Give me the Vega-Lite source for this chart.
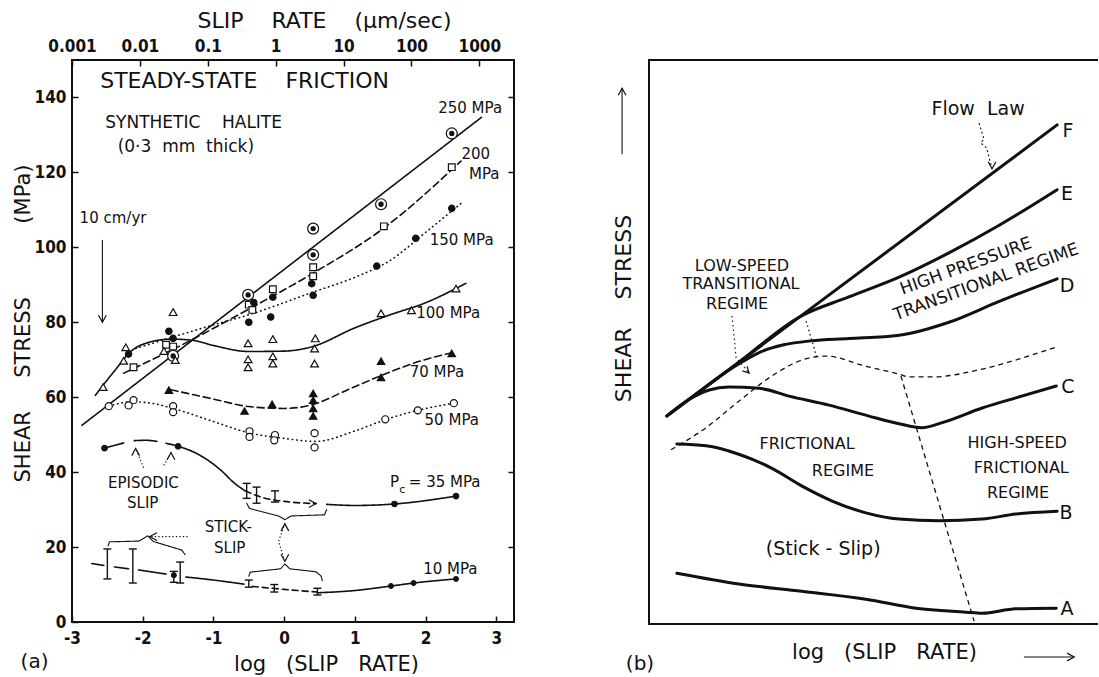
{
  "$schema": "https://vega.github.io/schema/vega-lite/v6.json",
  "background": "white",
  "padding": {"left": 10, "top": 8, "right": 0, "bottom": 0},
  "bounds": "flush",
  "spacing": 135,
  "config": {
    "view": {"stroke": "#111", "strokeWidth": 2},
    "font": "DejaVu Sans",
    "axis": {"grid": false, "domain": false, "tickColor": "#111", "labelColor": "#111", "titleColor": "#111", "tickWidth": 1.5, "labelFlush": false, "labelOverlap": false},
    "text": {"font": "DejaVu Sans", "color": "#111"},
    "line": {"color": "#111"},
    "rule": {"color": "#111"},
    "point": {"color": "#111"}
  },
  "datasets": {
    "ptsA": [
      {"s":"250","x":-1.57,"y":71},{"s":"250","x":-0.51,"y":87.3},{"s":"250","x":0.41,"y":105},{"s":"250","x":0.41,"y":98},{"s":"250","x":1.37,"y":111.5},{"s":"250","x":2.37,"y":130.4},
      {"s":"200","x":-2.13,"y":68},{"s":"200","x":-1.67,"y":74},{"s":"200","x":-1.57,"y":73.5},{"s":"200","x":-0.5,"y":84.7},{"s":"200","x":-0.45,"y":83.3},{"s":"200","x":-0.16,"y":88.8},{"s":"200","x":0.41,"y":94.7},{"s":"200","x":0.41,"y":92.3},{"s":"200","x":1.41,"y":105.6},{"s":"200","x":2.37,"y":121.4},
      {"s":"150","x":-2.2,"y":71.5},{"s":"150","x":-1.63,"y":77.6},{"s":"150","x":-1.57,"y":75.7},{"s":"150","x":-0.5,"y":80},{"s":"150","x":-0.43,"y":85.3},{"s":"150","x":-0.16,"y":86.7},{"s":"150","x":-0.19,"y":81.4},{"s":"150","x":0.39,"y":90.3},{"s":"150","x":0.41,"y":87.2},{"s":"150","x":1.31,"y":95},{"s":"150","x":1.86,"y":102.4},{"s":"150","x":2.37,"y":110.4},
      {"s":"100","x":-2.56,"y":62.7},{"s":"100","x":-2.24,"y":73.3},{"s":"100","x":-2.27,"y":69.7},{"s":"100","x":-1.7,"y":72.3},{"s":"100","x":-1.57,"y":82.7},{"s":"100","x":-1.54,"y":69.9},{"s":"100","x":-0.51,"y":74.4},{"s":"100","x":-0.51,"y":70.1},{"s":"100","x":-0.51,"y":68},{"s":"100","x":-0.16,"y":75.5},{"s":"100","x":-0.16,"y":70.9},{"s":"100","x":-0.16,"y":69},{"s":"100","x":0.44,"y":75.7},{"s":"100","x":0.43,"y":73},{"s":"100","x":0.43,"y":69},{"s":"100","x":1.37,"y":82.4},{"s":"100","x":1.8,"y":83.2},{"s":"100","x":2.43,"y":89},
      {"s":"70","x":-1.63,"y":61.9},{"s":"70","x":-0.56,"y":56.3},{"s":"70","x":-0.17,"y":58.1},{"s":"70","x":0.41,"y":61},{"s":"70","x":0.41,"y":59.2},{"s":"70","x":0.41,"y":57},{"s":"70","x":0.41,"y":55},{"s":"70","x":1.37,"y":69.6},{"s":"70","x":1.37,"y":65.3},{"s":"70","x":2.37,"y":71.7},
      {"s":"50","x":-2.48,"y":57.6},{"s":"50","x":-2.2,"y":57.8},{"s":"50","x":-2.13,"y":59.2},{"s":"50","x":-1.57,"y":57.6},{"s":"50","x":-1.57,"y":56},{"s":"50","x":-0.49,"y":50.9},{"s":"50","x":-0.49,"y":49.4},{"s":"50","x":-0.13,"y":49.9},{"s":"50","x":-0.14,"y":48.5},{"s":"50","x":0.43,"y":50.4},{"s":"50","x":0.43,"y":46.6},{"s":"50","x":1.43,"y":54.1},{"s":"50","x":1.89,"y":56.5},{"s":"50","x":2.4,"y":58.4},
      {"s":"35","x":-2.54,"y":46.4},{"s":"35","x":-1.5,"y":46.9},{"s":"35","x":1.56,"y":31.5},{"s":"35","x":2.43,"y":33.6},
      {"s":"10","x":-1.56,"y":12.5},{"s":"10","x":1.51,"y":9.6},{"s":"10","x":1.83,"y":10.4},{"s":"10","x":2.43,"y":11.5}
    ],
    "crvA": [
      {"c":"250","x":-2.86,"y":52.5},{"c":"250","x":2.79,"y":134.7},
      {"c":"200","x":-2.27,"y":66.4},{"c":"200","x":-1.6,"y":72.5},{"c":"200","x":-0.5,"y":83.5},{"c":"200","x":0.4,"y":93},{"c":"200","x":1.4,"y":105},{"c":"200","x":2.5,"y":123},
      {"c":"150","x":-2.1,"y":73},{"c":"150","x":-1.0,"y":79.3},{"c":"150","x":-0.5,"y":82},{"c":"150","x":0.4,"y":88},{"c":"150","x":1.0,"y":92},{"c":"150","x":1.5,"y":96.5},{"c":"150","x":2.0,"y":104},{"c":"150","x":2.5,"y":111.7},
      {"c":"100","x":-2.67,"y":60.5},{"c":"100","x":-2.4,"y":67},{"c":"100","x":-2.15,"y":72.5},{"c":"100","x":-1.9,"y":74.7},{"c":"100","x":-1.6,"y":75.5},{"c":"100","x":-1.3,"y":75.2},{"c":"100","x":-1.0,"y":73.8},{"c":"100","x":-0.5,"y":72.2},{"c":"100","x":0,"y":72.3},{"c":"100","x":0.4,"y":73.5},{"c":"100","x":1.0,"y":78.5},{"c":"100","x":1.5,"y":82},{"c":"100","x":2.0,"y":85.2},{"c":"100","x":2.57,"y":90.4},
      {"c":"70","x":-1.6,"y":62},{"c":"70","x":-1.0,"y":59.5},{"c":"70","x":-0.5,"y":57.5},{"c":"70","x":0,"y":57},{"c":"70","x":0.4,"y":58},{"c":"70","x":0.9,"y":62},{"c":"70","x":1.4,"y":66},{"c":"70","x":1.9,"y":69.5},{"c":"70","x":2.4,"y":72},
      {"c":"50","x":-2.48,"y":57.6},{"c":"50","x":-2.15,"y":58.8},{"c":"50","x":-1.85,"y":58.3},{"c":"50","x":-1.57,"y":57},{"c":"50","x":-1.0,"y":53.5},{"c":"50","x":-0.5,"y":50.5},{"c":"50","x":0,"y":49},{"c":"50","x":0.45,"y":48.2},{"c":"50","x":1.0,"y":51},{"c":"50","x":1.43,"y":54},{"c":"50","x":1.89,"y":56.5},{"c":"50","x":2.4,"y":58.4},
      {"c":"35a","x":-2.54,"y":46.4},{"c":"35a","x":-2.27,"y":47.8},
      {"c":"35b","x":-2.12,"y":48.4},{"c":"35b","x":-1.95,"y":48.5},{"c":"35b","x":-1.8,"y":48.2},
      {"c":"35c","x":-1.67,"y":47.7},{"c":"35c","x":-1.5,"y":46.9},{"c":"35c","x":-1.2,"y":44.6},{"c":"35c","x":-0.9,"y":40.6},{"c":"35c","x":-0.7,"y":37},{"c":"35c","x":-0.55,"y":35},
      {"c":"35s","x":-0.55,"y":35},{"c":"35s","x":-0.3,"y":33.2},{"c":"35s","x":0,"y":32.2},{"c":"35s","x":0.45,"y":31.6},
      {"c":"35d","x":0.6,"y":31.4},{"c":"35d","x":1.0,"y":31.1},{"c":"35d","x":1.56,"y":31.5},{"c":"35d","x":2.43,"y":33.6},
      {"c":"10a","x":-2.72,"y":15.6},{"c":"10a","x":-2.55,"y":15.1},
      {"c":"10b","x":-2.4,"y":14.7},{"c":"10b","x":-2.2,"y":14.2},
      {"c":"10c","x":-2.06,"y":13.9},{"c":"10c","x":-1.67,"y":12.8},
      {"c":"10d","x":-1.39,"y":12},{"c":"10d","x":-1.0,"y":11.2},{"c":"10d","x":-0.57,"y":10.1},
      {"c":"10s","x":-0.45,"y":9.5},{"c":"10s","x":0,"y":8.7},{"c":"10s","x":0.47,"y":8},
      {"c":"10e","x":0.47,"y":7.8},{"c":"10e","x":1.0,"y":8.4},{"c":"10e","x":1.51,"y":9.6},{"c":"10e","x":1.83,"y":10.4},{"c":"10e","x":2.43,"y":11.5}
    ],
    "barsA": [
      {"x":-2.5,"y":11.5,"hi":19.5},{"x":-2.14,"y":10.4,"hi":19.5},{"x":-1.56,"y":10.6,"hi":13.5},{"x":-1.47,"y":10.4,"hi":16},
      {"x":-0.53,"y":33,"hi":37},{"x":-0.39,"y":31.7,"hi":36},{"x":-0.13,"y":32,"hi":35},
      {"x":-0.5,"y":9.3,"hi":11.2},{"x":-0.14,"y":8,"hi":10},{"x":0.47,"y":7.2,"hi":9}
    ],
    "annA": [
      {"id":"b1","k":1,"x":-2.49,"y":20.3},{"id":"b1","k":2,"x":-2.47,"y":21.4},{"id":"b1","k":3,"x":-2.05,"y":21.6},{"id":"b1","k":4,"x":-1.93,"y":23},{"id":"b1","k":5,"x":-1.85,"y":21.5},{"id":"b1","k":6,"x":-1.45,"y":19.2},{"id":"b1","k":7,"x":-1.4,"y":18},
      {"id":"b2","k":1,"x":-0.53,"y":31.7},{"id":"b2","k":2,"x":-0.49,"y":30.3},{"id":"b2","k":3,"x":-0.08,"y":28.3},{"id":"b2","k":4,"x":0.01,"y":27.3},{"id":"b2","k":5,"x":0.1,"y":28.3},{"id":"b2","k":6,"x":0.57,"y":28.6},{"id":"b2","k":7,"x":0.6,"y":30},
      {"id":"b3","k":1,"x":-0.5,"y":12.2},{"id":"b3","k":2,"x":-0.48,"y":13.3},{"id":"b3","k":3,"x":-0.05,"y":14.2},{"id":"b3","k":4,"x":0.01,"y":15.5},{"id":"b3","k":5,"x":0.08,"y":14.2},{"id":"b3","k":6,"x":0.45,"y":13.4},{"id":"b3","k":7,"x":0.52,"y":12.3},{"id":"b3","k":8,"x":0.54,"y":11},
      {"id":"a1","k":1,"x":-1.37,"y":22.8},{"id":"a1","k":2,"x":-1.9,"y":22.8},
      {"id":"a2","k":1,"x":0.01,"y":26.2},{"id":"a2","k":2,"x":-0.08,"y":21.5},{"id":"a2","k":3,"x":0.01,"y":16.2},
      {"id":"a3","k":1,"x":-1.99,"y":41.3},{"id":"a3","k":2,"x":-2.1,"y":46.3},
      {"id":"a4","k":1,"x":-1.7,"y":41.9},{"id":"a4","k":2,"x":-1.6,"y":45.2},
      {"id":"a5","k":1,"x":-2.57,"y":101.9},{"id":"a5","k":2,"x":-2.57,"y":80}
    ],
    "headsA": [
      {"d":"left","x":-1.9,"y":22.8},{"d":"up","x":0.01,"y":26.2},{"d":"down","x":0.01,"y":16.2},
      {"d":"up","x":-2.1,"y":46.3},{"d":"up","x":-1.6,"y":45.2},{"d":"down","x":-2.57,"y":80},{"d":"right","x":0.45,"y":31.6}
    ],
    "txtA": [
      {"t":"STEADY-STATE\u00a0\u00a0\u00a0\u00a0FRICTION","x":-0.56,"y":144.5,"k":"big"},
      {"t":"SYNTHETIC\u00a0\u00a0\u00a0\u00a0HALITE","x":-1.28,"y":133.3,"k":"mid"},
      {"t":"(0·3\u00a0\u00a0mm\u00a0\u00a0thick)","x":-1.39,"y":126.7,"k":"mid"},
      {"t":"10 cm/yr","x":-2.42,"y":107.7,"k":"small"},
      {"t":"250 MPa","x":2.63,"y":137.3,"k":"small"},
      {"t":"200","x":2.71,"y":125,"k":"small"},
      {"t":"MPa","x":2.83,"y":119.7,"k":"small"},
      {"t":"150 MPa","x":2.51,"y":101.9,"k":"small"},
      {"t":"100 MPa","x":2.32,"y":82.4,"k":"small"},
      {"t":"70 MPa","x":2.16,"y":66.7,"k":"small"},
      {"t":"50 MPa","x":2.37,"y":53.9,"k":"small"},
      {"t":"P","x":1.56,"y":37.3,"k":"small"},
      {"t":"c","x":1.67,"y":35.1,"k":"sub"},
      {"t":"= 35 MPa","x":2.27,"y":37.3,"k":"small"},
      {"t":"10 MPa","x":2.35,"y":14.1,"k":"small"},
      {"t":"EPISODIC","x":-1.99,"y":37,"k":"small"},
      {"t":"SLIP","x":-2.0,"y":31.7,"k":"small"},
      {"t":"STICK-","x":-0.79,"y":25.3,"k":"small"},
      {"t":"SLIP","x":-0.77,"y":19.7,"k":"small"},
      {"t":"(a)","x":-3.53,"y":-10.7,"k":"panel"}
    ],
    "topA": [
      {"r":0.001,"v":0},{"r":1000,"v":140}
    ],
    "frameB": [
      {"k":1,"x":100,"y":0},{"k":2,"x":0,"y":0},{"k":3,"x":0,"y":100},{"k":4,"x":100,"y":100}
    ],
    "crvB": [
      {"c":"F","x":4.0,"y":36.9},{"c":"F","x":90.9,"y":88.5},
      {"c":"E","x":4.0,"y":36.9},{"c":"E","x":20,"y":46.4},{"c":"E","x":33.4,"y":54.4},{"c":"E","x":44.5,"y":58.0},{"c":"E","x":55.7,"y":61.5},{"c":"E","x":66.8,"y":65.8},{"c":"E","x":78.0,"y":70.7},{"c":"E","x":90.9,"y":77.0},
      {"c":"D","x":4.0,"y":36.9},{"c":"D","x":11,"y":41.1},{"c":"D","x":17,"y":44.6},{"c":"D","x":21,"y":46.6},{"c":"D","x":25,"y":48.3},{"c":"D","x":30,"y":49.5},{"c":"D","x":36,"y":50.2},{"c":"D","x":44.5,"y":50.6},{"c":"D","x":55.7,"y":51.2},{"c":"D","x":66.8,"y":53.5},{"c":"D","x":78,"y":57.2},{"c":"D","x":90.9,"y":61.2},
      {"c":"C","x":4.0,"y":36.9},{"c":"C","x":8.9,"y":39.8},{"c":"C","x":13.4,"y":41.5},{"c":"C","x":17.8,"y":42.0},{"c":"C","x":24.5,"y":41.8},{"c":"C","x":31.2,"y":40.4},{"c":"C","x":40.1,"y":38.8},{"c":"C","x":48.8,"y":36.9},{"c":"C","x":55.7,"y":35.5},{"c":"C","x":60.8,"y":34.8},{"c":"C","x":65.3,"y":35.7},{"c":"C","x":74.2,"y":38.3},{"c":"C","x":81.7,"y":40.1},{"c":"C","x":90.7,"y":42.2},
      {"c":"B","x":6.2,"y":31.9},{"c":"B","x":12.7,"y":31.6},{"c":"B","x":20.0,"y":30.1},{"c":"B","x":27.4,"y":27.6},{"c":"B","x":34.2,"y":24.4},{"c":"B","x":40.8,"y":21.8},{"c":"B","x":48.3,"y":19.7},{"c":"B","x":55.7,"y":18.6},{"c":"B","x":64.6,"y":18.3},{"c":"B","x":74.2,"y":18.6},{"c":"B","x":81.7,"y":19.5},{"c":"B","x":90.9,"y":20.0},
      {"c":"A","x":6.2,"y":9.0},{"c":"A","x":20,"y":7.1},{"c":"A","x":34,"y":5.8},{"c":"A","x":48.3,"y":4.4},{"c":"A","x":59.5,"y":2.8},{"c":"A","x":70.6,"y":2.1},{"c":"A","x":74.2,"y":1.9},{"c":"A","x":81.7,"y":2.7},{"c":"A","x":90.7,"y":2.8}
    ],
    "bndB": [
      {"c":"dash1","x":4.9,"y":30.9},{"c":"dash1","x":12.7,"y":34.8},{"c":"dash1","x":20.0,"y":39.5},{"c":"dash1","x":27.4,"y":44.0},{"c":"dash1","x":34.9,"y":47.0},{"c":"dash1","x":39.4,"y":47.5},{"c":"dash1","x":48.3,"y":45.7},{"c":"dash1","x":55.7,"y":44.3},{"c":"dash1","x":58,"y":43.8},{"c":"dash1","x":63.1,"y":43.8},{"c":"dash1","x":74.2,"y":45.2},{"c":"dash1","x":85.3,"y":47.7},{"c":"dash1","x":90.7,"y":49.1},
      {"c":"dash2","x":56.1,"y":44.0},{"c":"dash2","x":72.4,"y":0.5},
      {"c":"dot1","x":35,"y":53.7},{"c":"dot1","x":37.4,"y":47.2}
    ],
    "annB": [
      {"id":"lsa","k":1,"x":18.5,"y":54.6},{"id":"lsa","k":2,"x":19.4,"y":47.2},{"id":"lsa","k":3,"x":22.3,"y":44.5},
      {"id":"fla","k":1,"x":73.5,"y":88.8},{"id":"fla","k":2,"x":74.6,"y":86.0},{"id":"fla","k":3,"x":73.9,"y":85.3},{"id":"fla","k":4,"x":75.2,"y":84.4},{"id":"fla","k":5,"x":76.4,"y":80.7},
      {"id":"yarrow","k":1,"x":-6,"y":83.3},{"id":"yarrow","k":2,"x":-6,"y":95.0},
      {"id":"xarrow","k":1,"x":83.5,"y":-5.85},{"id":"xarrow","k":2,"x":94.7,"y":-5.85}
    ],
    "headsB": [
      {"d":"downright","x":22.3,"y":44.5},{"d":"down","x":76.4,"y":80.7},{"d":"up","x":-6,"y":95.0},{"d":"right","x":94.7,"y":-5.85}
    ],
    "txtB": [
      {"t":"Flow\u00a0\u00a0Law","x":73.3,"y":91.3,"k":"letter"},
      {"t":"F","x":93.3,"y":87.4,"k":"letter"},
      {"t":"E","x":93.1,"y":76.2,"k":"letter"},
      {"t":"D","x":93.1,"y":59.9,"k":"letter"},
      {"t":"C","x":93.3,"y":42.0,"k":"letter"},
      {"t":"B","x":92.9,"y":19.7,"k":"letter"},
      {"t":"A","x":93.1,"y":2.7,"k":"letter"},
      {"t":"LOW-SPEED","x":20.7,"y":63.5,"k":"reg"},
      {"t":"TRANSITIONAL","x":20.5,"y":60.3,"k":"reg"},
      {"t":"REGIME","x":19.6,"y":56.7,"k":"reg"},
      {"t":"FRICTIONAL","x":35.2,"y":31.9,"k":"reg"},
      {"t":"REGIME","x":43.2,"y":27.1,"k":"reg"},
      {"t":"HIGH-SPEED","x":82,"y":32.1,"k":"reg"},
      {"t":"FRICTIONAL","x":82.9,"y":27.7,"k":"reg"},
      {"t":"REGIME","x":82.2,"y":23.2,"k":"reg"},
      {"t":"(Stick - Slip)","x":38.8,"y":13.3,"k":"letter"},
      {"t":"(b)","x":-2.0,"y":-7.1,"k":"panel"}
    ],
    "rotB": [
      {"t":"HIGH PRESSURE","x":70.6,"y":63.4},
      {"t":"TRANSITIONAL REGIME","x":75.1,"y":60.6}
    ]
  },
  "hconcat": [
    {
      "width": 442,
      "height": 562,
      "layer": [
        {
          "encoding": {
            "x": {"field": "x", "type": "quantitative", "scale": {"domain": [-3, 3.25], "nice": false, "zero": false},
              "axis": {"values": [-3,-2,-1,0,1,2,3], "labelExpr": "datum.value < 0 ? '-' + abs(datum.value) : '' + datum.value",
                "labelFont": "Liberation Sans Narrow, DejaVu Sans Condensed, DejaVu Sans", "labelFontSize": 17, "labelFontWeight": "bold",
                "tickSize": -6, "labelPadding": 14,
                "title": "log\u00a0\u00a0\u00a0(SLIP\u00a0\u00a0\u00a0RATE)", "titleFontSize": 21, "titleFontWeight": "normal",
                "titleX": 254, "titleY": 48, "titleBaseline": "alphabetic", "titleAlign": "center"}},
            "y": {"field": "y", "type": "quantitative", "scale": {"domain": [0, 150], "nice": false, "zero": false},
              "axis": {"values": [0,20,40,60,80,100,120,140],
                "labelFont": "Liberation Sans Narrow, DejaVu Sans Condensed, DejaVu Sans", "labelFontSize": 17, "labelFontWeight": "bold",
                "tickSize": -6, "labelPadding": 12,
                "title": "SHEAR\u00a0\u00a0\u00a0\u00a0\u00a0STRESS\u00a0\u00a0\u00a0\u00a0\u00a0\u00a0\u00a0\u00a0\u00a0\u00a0\u00a0(MPa)", "titleFontSize": 21, "titleFontWeight": "normal",
                "titleAngle": 270, "titleX": -43, "titleY": 263, "titleBaseline": "alphabetic", "titleAlign": "center"}}
          },
          "layer": [
            {
              "data": {"name": "crvA"},
              "mark": {"type": "line", "interpolate": "monotone", "strokeWidth": 1.6, "strokeCap": "round"},
              "encoding": {
                "strokeDash": {"field": "c", "type": "nominal", "legend": null,
                  "scale": {"type": "ordinal",
                    "domain": ["250","200","150","100","70","50","35a","35b","35c","35s","35d","10a","10b","10c","10d","10s","10e"],
                    "range": [[1,0],[7,4],[0.5,4],[1,0],[7,4],[0.5,4],[1,0],[1,0],[1,0],[6,4],[1,0],[1,0],[1,0],[1,0],[1,0],[6,4],[1,0]]}}
              }
            },
            {
              "data": {"name": "annA"},
              "mark": {"type": "line", "strokeWidth": 1.1, "strokeCap": "round"},
              "encoding": {
                "order": {"field": "k", "type": "quantitative"},
                "strokeDash": {"field": "id", "type": "nominal", "legend": null,
                  "scale": {"type": "ordinal", "domain": ["b1","b2","b3","a1","a2","a3","a4","a5"],
                    "range": [[1,0],[1,0],[1,0],[0.5,3],[0.5,3],[0.5,3],[0.5,3],[1,0]]}}
              }
            },
            {
              "data": {"name": "barsA"},
              "mark": {"type": "rule", "strokeWidth": 1.4},
              "encoding": {"y2": {"field": "hi"}}
            },
            {
              "data": {"name": "barsA"},
              "transform": [{"fold": ["y", "hi"], "as": ["end", "y"]}],
              "mark": {"type": "point", "shape": "M-1,0L1,0", "size": 64, "strokeWidth": 1.4, "filled": false, "opacity": 1}
            },
            {
              "data": {"name": "ptsA"},
              "mark": {"type": "point", "filled": true, "stroke": "#111", "strokeWidth": 1.2, "opacity": 1},
              "encoding": {
                "shape": {"field": "s", "type": "nominal", "legend": null,
                  "scale": {"type": "ordinal", "domain": ["250","200","150","100","70","50","35","10"],
                    "range": ["circle","square","circle","triangle-up","triangle-up","circle","circle","circle"]}},
                "fill": {"field": "s", "type": "nominal", "legend": null,
                  "scale": {"type": "ordinal", "domain": ["250","200","150","100","70","50","35","10"],
                    "range": ["white","white","#111","white","#111","white","#111","#111"]}},
                "size": {"field": "s", "type": "nominal", "legend": null,
                  "scale": {"type": "ordinal", "domain": ["250","200","150","100","70","50","35","10"],
                    "range": [120, 45, 40, 60, 55, 50, 30, 22]}}
              }
            },
            {
              "data": {"name": "ptsA"},
              "transform": [{"filter": "datum.s == '250'"}],
              "mark": {"type": "point", "filled": true, "shape": "circle", "size": 28, "color": "#111", "opacity": 1}
            },
            {
              "data": {"name": "headsA"},
              "mark": {"type": "point", "filled": false, "strokeWidth": 1.2, "size": 50, "opacity": 1},
              "encoding": {
                "shape": {"field": "d", "type": "nominal", "legend": null,
                  "scale": {"type": "ordinal", "domain": ["right","left","up","down","downright"],
                    "range": ["M-2,-1.1L0,0L-2,1.1","M2,-1.1L0,0L2,1.1","M-1.1,2L0,0L1.1,2","M-1.1,-2L0,0L1.1,-2","M-1.9,-0.6L0,0L-0.6,-1.9"]}}
              }
            },
            {
              "data": {"name": "txtA"},
              "transform": [{"filter": "datum.k == 'big'"}],
              "mark": {"type": "text", "align": "center", "baseline": "middle", "fontSize": 22},
              "encoding": {"text": {"field": "t"}}
            },
            {
              "data": {"name": "txtA"},
              "transform": [{"filter": "datum.k == 'mid'"}],
              "mark": {"type": "text", "align": "center", "baseline": "middle", "fontSize": 17},
              "encoding": {"text": {"field": "t"}}
            },
            {
              "data": {"name": "txtA"},
              "transform": [{"filter": "datum.k == 'small'"}],
              "mark": {"type": "text", "align": "center", "baseline": "middle", "fontSize": 15},
              "encoding": {"text": {"field": "t"}}
            },
            {
              "data": {"name": "txtA"},
              "transform": [{"filter": "datum.k == 'sub'"}],
              "mark": {"type": "text", "align": "center", "baseline": "middle", "fontSize": 11},
              "encoding": {"text": {"field": "t"}}
            },
            {
              "data": {"name": "txtA"},
              "transform": [{"filter": "datum.k == 'panel'"}],
              "mark": {"type": "text", "align": "center", "baseline": "middle", "fontSize": 20},
              "encoding": {"text": {"field": "t"}}
            }
          ],
          "resolve": {"scale": {"strokeDash": "independent", "shape": "independent"}}
        },
        {
          "data": {"name": "topA"},
          "mark": {"type": "point", "opacity": 0},
          "encoding": {
            "x": {"field": "r", "type": "quantitative", "scale": {"type": "log", "domain": [0.001, 3236], "nice": false},
              "axis": {"orient": "top", "values": [0.001,0.01,0.1,1,10,100,1000], "labelExpr": "'' + datum.value",
                "labelFont": "Liberation Sans Narrow, DejaVu Sans Condensed, DejaVu Sans", "labelFontSize": 17, "labelFontWeight": "bold",
                "tickSize": -6, "labelPadding": 11,
                "title": "SLIP\u00a0\u00a0\u00a0\u00a0RATE\u00a0\u00a0\u00a0\u00a0(µm/sec)", "titleFontSize": 22, "titleFontWeight": "normal",
                "titleX": 252, "titleY": -33, "titleBaseline": "alphabetic", "titleAlign": "center"}},
            "y": {"field": "v", "type": "quantitative",
              "axis": {"orient": "right", "values": [20,40,60,80,100,120,140], "labels": false, "tickSize": -6, "title": null}}
          }
        }
      ],
      "resolve": {"scale": {"x": "independent"}, "axis": {"x": "independent", "y": "independent"}}
    },
    {
      "width": 449,
      "height": 564,
      "view": {"stroke": null},
      "encoding": {
        "x": {"field": "x", "type": "quantitative", "scale": {"domain": [0, 100], "nice": false, "zero": false},
          "axis": {"labels": false, "ticks": false, "domain": false,
            "title": "log\u00a0\u00a0\u00a0(SLIP\u00a0\u00a0\u00a0RATE)", "titleFontSize": 21, "titleFontWeight": "normal",
            "titleX": 235, "titleY": 34, "titleBaseline": "alphabetic", "titleAlign": "center"}},
        "y": {"field": "y", "type": "quantitative", "scale": {"domain": [0, 100], "nice": false, "zero": false},
          "axis": {"labels": false, "ticks": false, "domain": false,
            "title": "SHEAR\u00a0\u00a0\u00a0\u00a0STRESS", "titleFontSize": 22, "titleFontWeight": "normal",
            "titleAngle": 270, "titleX": -19, "titleY": 248, "titleBaseline": "alphabetic", "titleAlign": "center"}}
      },
      "layer": [
        {
          "data": {"name": "frameB"},
          "mark": {"type": "line", "strokeWidth": 2},
          "encoding": {"order": {"field": "k", "type": "quantitative"}}
        },
        {
          "data": {"name": "crvB"},
          "mark": {"type": "line", "interpolate": "monotone", "strokeWidth": 3, "strokeCap": "round"},
          "encoding": {"detail": {"field": "c"}}
        },
        {
          "data": {"name": "bndB"},
          "mark": {"type": "line", "interpolate": "monotone", "strokeWidth": 1.3},
          "encoding": {
            "strokeDash": {"field": "c", "type": "nominal", "legend": null,
              "scale": {"type": "ordinal", "domain": ["dash1","dash2","dot1"], "range": [[5,4],[5,4],[1.5,3]]}}
          }
        },
        {
          "data": {"name": "annB"},
          "mark": {"type": "line", "strokeWidth": 1.1},
          "encoding": {
            "order": {"field": "k", "type": "quantitative"},
            "strokeDash": {"field": "id", "type": "nominal", "legend": null,
              "scale": {"type": "ordinal", "domain": ["lsa","fla","yarrow","xarrow"], "range": [[1.5,3],[2,2.5],[1,0],[1,0]]}}
          }
        },
        {
          "data": {"name": "headsB"},
          "mark": {"type": "point", "filled": false, "strokeWidth": 1.2, "size": 50, "opacity": 1},
          "encoding": {
            "shape": {"field": "d", "type": "nominal", "legend": null,
              "scale": {"type": "ordinal", "domain": ["right","left","up","down","downright"],
                "range": ["M-2,-1.1L0,0L-2,1.1","M2,-1.1L0,0L2,1.1","M-1.1,2L0,0L1.1,2","M-1.1,-2L0,0L1.1,-2","M-1.9,-0.6L0,0L-0.6,-1.9"]}}
          }
        },
        {
          "data": {"name": "txtB"},
          "transform": [{"filter": "datum.k == 'letter'"}],
          "mark": {"type": "text", "align": "center", "baseline": "middle", "fontSize": 19},
          "encoding": {"text": {"field": "t"}}
        },
        {
          "data": {"name": "txtB"},
          "transform": [{"filter": "datum.k == 'reg'"}],
          "mark": {"type": "text", "align": "center", "baseline": "middle", "fontSize": 16},
          "encoding": {"text": {"field": "t"}}
        },
        {
          "data": {"name": "txtB"},
          "transform": [{"filter": "datum.k == 'panel'"}],
          "mark": {"type": "text", "align": "center", "baseline": "middle", "fontSize": 20},
          "encoding": {"text": {"field": "t"}}
        },
        {
          "data": {"name": "rotB"},
          "mark": {"type": "text", "align": "center", "baseline": "middle", "angle": -20, "fontSize": 17},
          "encoding": {"text": {"field": "t"}}
        }
      ],
      "resolve": {"scale": {"strokeDash": "independent", "shape": "independent"}}
    }
  ]
}
